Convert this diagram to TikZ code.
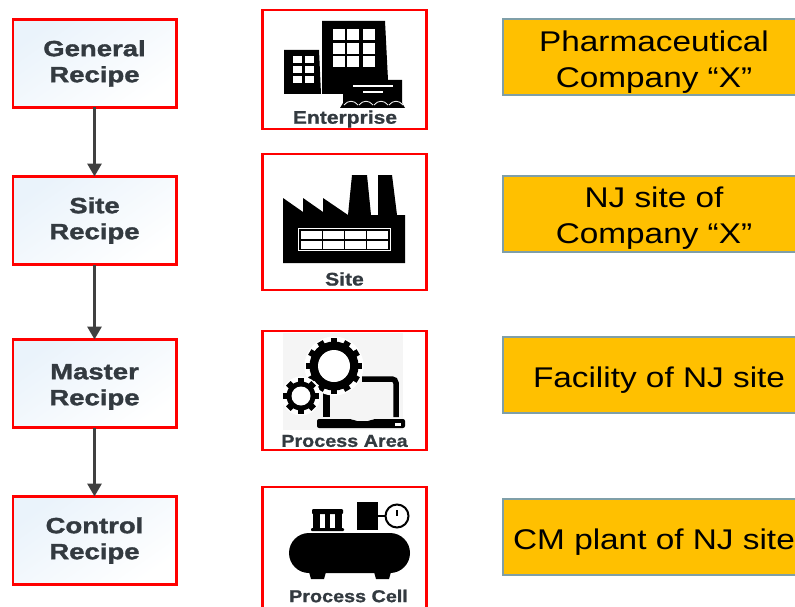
\documentclass[tikz,border=0pt]{standalone}
\usepackage{fontspec}
\setmainfont{Liberation Sans}
\newfontfamily\recipefont[FakeStretch=1.25,BoldFeatures={FakeBold=1.6}]{Liberation Sans}
\newfontfamily\labelfont[FakeStretch=1.15,BoldFeatures={FakeBold=1}]{Liberation Sans}
\newfontfamily\tierfont[FakeStretch=1.17]{Liberation Sans}
\usetikzlibrary{arrows.meta,positioning}
\definecolor{recipered}{HTML}{FF0000}
\definecolor{recipeink}{HTML}{333A40}
\definecolor{recipeblue}{HTML}{EAF3FB}
\definecolor{tierfill}{HTML}{FFC000}
\definecolor{tierline}{HTML}{7F9FA8}
\newcommand{\gearicon}[5]{%
  \fill [white] (#1,#2) circle (#3+1.5);
  \foreach \a in {0,#5,...,179} {\fill [shift={(#1,#2)},rotate=\a] (-3.2,-#3) rectangle (3.2,#3);}
  \fill (#1,#2) circle (#3-3.5);
  \fill [white] (#1,#2) circle (#4);
}

\begin{document}
\begin{tikzpicture}[x=1pt,y=-1pt]
\tikzstyle{recipe} = [rectangle, draw=recipered, line width=2.5pt, outer sep=0pt,
    left color=recipeblue, right color=white, shading angle=35,
    minimum width=163.5pt, minimum height=88pt, align=center, text=recipeink,
    font=\recipefont\bfseries\fontsize{22}{26}\selectfont]
\tikzstyle{unit} = [rectangle, draw=recipered, line width=2.5pt, outer sep=0pt, minimum width=164pt]
\tikzstyle{tier} = [rectangle, draw=tierline, fill=tierfill, line width=2pt, outer sep=0pt,
    minimum width=302pt, minimum height=76pt, inner ysep=0pt, align=center,
    font=\tierfont\fontsize{28.5}{36}\selectfont]
\tikzstyle{oneline} = [tier, execute at begin node={\rule{0pt}{32pt}}]
\tikzstyle{twolines} = [tier, execute at begin node={\rule{0pt}{66pt}}]
\tikzstyle{caption} = [text=recipeink, font=\labelfont\bfseries\fontsize{18.3}{20}\selectfont]
\tikzstyle{longcaption} = [caption, font=\labelfont\bfseries\fontsize{17.2}{20}\selectfont]
\tikzstyle{line} = [draw=black!75, line width=3pt, -{Triangle[width=14pt,length=13pt]}]

\clip (0,0) rectangle (795,607);

\node [recipe] (general) at (94.5,63.5) {General\\Recipe};
\node [recipe, below=69pt of general] (site) {Site\\Recipe};
\node [recipe, below=75pt of site, execute at begin node={\rule{0pt}{48pt}}] (master) {Master\\Recipe};
\node [recipe, below=69pt of master] (control) {Control\\Recipe};

\path [line] (general) -- (site);
\path [line] (site) -- (master);
\path [line] (master) -- (control);

\node [unit, minimum height=119pt] (enterprise) at (344.5,69.5) {};
\node [unit, minimum height=136pt, below=25pt of enterprise] (siteunit) {};
\node [unit, minimum height=119pt, below=41pt of siteunit] (area) {};
\node [unit, minimum height=124pt, below=37pt of area] (cell) {};

\node [twolines] (company) at (654,57.5) {Pharmaceutical\\Company “X”};
\node [twolines, below=80pt of company] (njsite) {NJ site of\\Company “X”};
\node [oneline, below=85pt of njsite] (facility) {\hspace{10pt}Facility of NJ site};
\node [oneline, below=86pt of facility] (plant) {CM plant of NJ site};

\node [caption] (enterprisetext) at (345,119) {Enterprise};
\node [caption] (sitetext) at (344.5,279) {Site};
\node [longcaption] (areatext) at (344.5,441) {Process Area};
\node [longcaption] (celltext) at (348.5,596) {Process Cell};

% enterprise
\fill (322,21) -- (385,21) -- (388,80) -- (343,80) -- (343,94) -- (322,94) -- cycle;
\fill (284,50) -- (319,50) -- (321,94) -- (284,94) -- cycle;
\foreach \x in {333,347,363} \foreach \y in {29,43,56}
  \fill [white] (\x,\y) rectangle +(12,11);
\foreach \x in {293,305} \foreach \y in {56,66,76}
  \fill [white] (\x,\y) rectangle +(9,7.5);
\fill (343,80) -- (402,80) -- (402,103) -- (405,108) -- (340,108) -- (343,103) -- cycle;
\draw [white, line width=1.2pt] (353,86) -- (393,86) (363,92) -- (383,92);
\foreach \x in {344,359,374,389}
  \draw [white, line width=0.8pt] (\x,105) .. controls (\x+4,100) and (\x+10,100) .. (\x+14,105);

% site
\fill (283,198) -- (303,212) -- (303,198) -- (323,212) -- (323,198) -- (348,215)
  -- (352,175) -- (367,175) -- (371,215) -- (378,215) -- (378,175) -- (392,175)
  -- (397,215) -- (405,215) -- (405,263) -- (283,263) -- cycle;
\draw [white, line width=1pt] (298.5,228.5) rectangle (390,250.5);
\foreach \x in {301,323,345,367} \foreach \y in {231,241}
  \fill [white] (\x,\y) rectangle +(20.5,8);

% process area
\fill [black!4] (283,333) rectangle (403,430);
\draw [line width=7pt] (326.5,393) -- (326.5,417);
\draw [line width=5.5pt, rounded corners=4pt] (362,379) -- (396,379) -- (396,417);
\fill [rounded corners=2pt] (317,419) -- (352,419) -- (355,421) -- (370,421) -- (373,419)
  -- (405,419) -- (405,428) -- (317,428) -- cycle;
\fill [white] (395,423) rectangle (401,425.5);
\gearicon{334}{366}{28}{16}{30}
\gearicon{301}{396}{18}{9.5}{45}

% process cell
\fill [rounded corners=20pt] (289,533) rectangle (410,573);
\fill (309,572) -- (326,572) -- (324,579) -- (311,579) -- cycle;
\fill (374,572) -- (391,572) -- (389,579) -- (376,579) -- cycle;
\fill [rounded corners=1pt] (312,509) rectangle (343,514);
\fill [rounded corners=1pt] (311,528) rectangle (344,531);
\fill (313,513) rectangle (320,529);
\fill (325,513) rectangle (330,529);
\fill (335,513) rectangle (342,529);
\fill (357,502) rectangle (378,530);
\draw [line width=2pt] (378,516) -- (385,516);
\draw [line width=2pt] (397,516) circle (11.5);
\draw [line width=1.5pt] (397,510) -- (397,516);
\end{tikzpicture}
\end{document}
